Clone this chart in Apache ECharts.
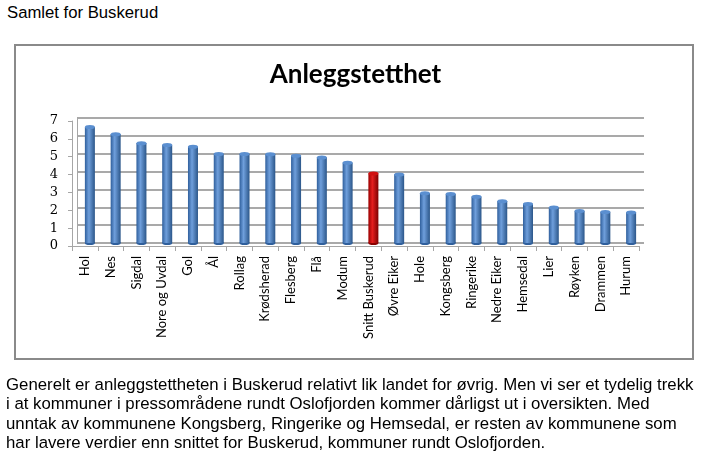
<!DOCTYPE html>
<html>
<head>
<meta charset="utf-8">
<script src="https://cdn.jsdelivr.net/npm/echarts@6/dist/echarts.min.js"></script>
<style>
  html, body { margin: 0; padding: 0; background: #fff; }
  body { width: 711px; height: 467px; position: relative; overflow: hidden; font-family: "Liberation Sans", Arial, sans-serif; color: #000; }
  .head { position: absolute; left: 7px; top: 3px; font-size: 16.7px; }
  .box { position: absolute; left: 14px; top: 44px; width: 676px; height: 312px; border: 2px solid #8a8a8a; }
  #chart { position: absolute; left: 0; top: 0; width: 711px; height: 467px; }
  .txt { position: absolute; left: 6px; top: 375px; font-size: 16.8px; line-height: 19.3px; white-space: nowrap; }
</style>
</head>
<body>
<div class="head">Samlet for Buskerud</div>
<div class="box"></div>
<div id="chart"></div>
<div class="txt">Generelt er anleggstettheten i Buskerud relativt lik landet for øvrig. Men vi ser et tydelig trekk<br>i at kommuner i pressområdene rundt Oslofjorden kommer dårligst ut i oversikten. Med<br>unntak av kommunene Kongsberg, Ringerike og Hemsedal, er resten av kommunene som<br>har lavere verdier enn snittet for Buskerud, kommuner rundt Oslofjorden.</div>
<script>
// kommuner, sortert etter anleggstetthet
var kommuner = ['Hol', 'Nes', 'Sigdal', 'Nore og Uvdal', 'Gol', 'Ål', 'Rollag', 'Krødsherad', 'Flesberg', 'Flå', 'Modum',
  'Snitt Buskerud', 'Øvre Eiker', 'Hole', 'Kongsberg', 'Ringerike', 'Nedre Eiker', 'Hemsedal', 'Lier', 'Røyken', 'Drammen', 'Hurum'];
var tetthet = [6.5, 6.1, 5.6, 5.5, 5.4, 5.0, 5.0, 4.98, 4.9, 4.8, 4.5,
  3.9, 3.85, 2.8, 2.75, 2.6, 2.35, 2.2, 2.0, 1.8, 1.75, 1.72];
var yTicks = [0, 1, 2, 3, 4, 5, 6, 7];
var snitt = 'Snitt Buskerud';

var blaa = new echarts.graphic.LinearGradient(0, 0, 1, 0, [
  { offset: 0, color: '#2f5f9c' }, { offset: 0.4, color: '#6f9fdc' }, { offset: 1, color: '#2b5689' }
]);
var rod = new echarts.graphic.LinearGradient(0, 0, 1, 0, [
  { offset: 0, color: '#9a0000' }, { offset: 0.4, color: '#e51e1e' }, { offset: 1, color: '#7c0000' }
]);

var barData = tetthet.map(function (v, i) {
  return { value: v, itemStyle: { color: kommuner[i] === snitt ? rod : blaa } };
});
var capData = tetthet.map(function (v, i) {
  return { value: v, itemStyle: { color: kommuner[i] === snitt ? '#d01010' : '#5b8fd0', borderColor: kommuner[i] === snitt ? '#8a0000' : '#2f5f9c', borderWidth: 0.6 } };
});

var chart = echarts.init(document.getElementById('chart'));
var option = {
  animation: false,
  title: {
    text: 'Anleggstetthet', left: 'center', top: 57,
    textStyle: { fontFamily: 'Lato', fontWeight: 'bold', fontSize: 26, color: '#000' }
  },
  grid: [
    { left: 77, top: 118, width: 567, height: 125 },  // bakvegg
    { left: 72, top: 121, width: 567, height: 125 }   // front akse
  ],
  xAxis: [
    { gridIndex: 0, type: 'category', data: kommuner, axisLine: { show: false }, axisTick: { show: false }, axisLabel: { show: false } },
    { gridIndex: 1, type: 'category', data: kommuner,
      axisLine: { lineStyle: { color: '#a6a6a6', width: 1 } },
      axisTick: { show: true, length: 5, lineStyle: { color: '#a6a6a6' } },
      axisLabel: { rotate: 90, interval: 0, margin: 10, fontFamily: 'Lato', fontSize: 13, color: '#000' } }
  ],
  yAxis: [
    { gridIndex: 0, type: 'value', min: 0, max: 7, interval: 1,
      axisLine: { show: true, lineStyle: { color: '#a6a6a6' } }, axisTick: { show: false }, axisLabel: { show: false },
      splitLine: { lineStyle: { color: '#8c8c8c', width: 1.5 } } },
    { gridIndex: 1, type: 'value', min: 0, max: 7, interval: 1,
      axisLine: { show: true, lineStyle: { color: '#a6a6a6' } },
      axisTick: { show: true, length: 4, lineStyle: { color: '#a6a6a6' } },
      splitLine: { show: false },
      axisLabel: { margin: 14, fontFamily: 'DejaVu Serif', fontSize: 13, color: '#000',
        formatter: function (v) { return yTicks.indexOf(v) >= 0 ? String(v) : ''; } } }
  ],
  series: [
    { type: 'bar', xAxisIndex: 0, yAxisIndex: 0, data: barData, barWidth: 10, z: 3 },
    { type: 'pictorialBar', xAxisIndex: 0, yAxisIndex: 0, data: capData, symbol: 'circle',
      symbolSize: [10, 4], symbolPosition: 'end', symbolOffset: [0, '-50%'], z: 4 },
    { type: 'pictorialBar', xAxisIndex: 0, yAxisIndex: 0, data: capData.map(function (d) { return { value: d.value, itemStyle: { color: d.itemStyle.borderColor } }; }),
      symbol: 'circle', symbolSize: [10, 4], symbolPosition: 'start', symbolOffset: [0, '50%'], z: 2 }
  ]
};
chart.setOption(option);
</script>
</body>
</html>
